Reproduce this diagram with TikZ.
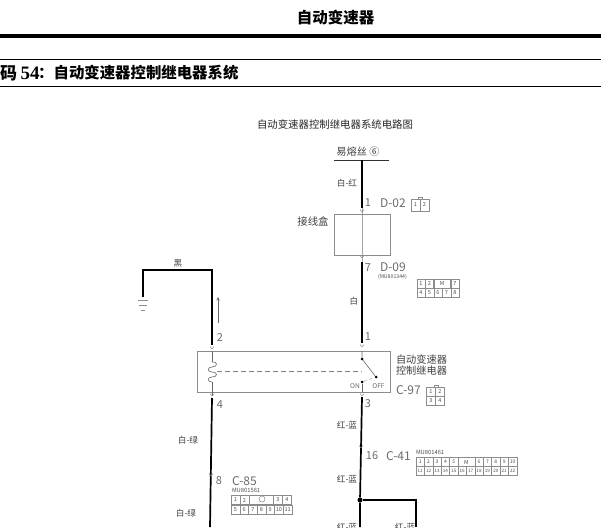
\documentclass[tikz,border=0pt]{standalone}
\usepackage{fontspec}
\setmainfont{Noto Sans CJK SC}
\newfontfamily\latinbold{Liberation Serif}
\definecolor{inkgray}{gray}{0.42}
\definecolor{linegray}{gray}{0.55}
\newcommand{\chev}[2]{\draw[linegray,line width=0.5pt] (#1-2,#2-2.5)--(#1,#2)--(#1+2,#2-2.5);}
\tikzset{
  wire/.style={line width=1.7pt,black},
  thinwire/.style={line width=0.6pt,linegray},
  txt/.style={inner sep=0pt,outer sep=0pt,font=\fontsize{8.6}{9}\selectfont,text=black!75},
  pin/.style={inner sep=0pt,outer sep=0pt,font=\fontsize{11}{11}\selectfont,text=inkgray},
  conn/.style={inner sep=0pt,outer sep=0pt,font=\fontsize{12}{12}\selectfont,text=inkgray},
  tiny/.style={inner sep=0pt,outer sep=0pt,font=\fontsize{5.8}{5.8}\selectfont,text=black!70},
  cell/.style={draw=linegray,line width=0.5pt,inner sep=0pt,outer sep=0pt,minimum height=9pt,font=\fontsize{5.5}{6}\selectfont,text=black!70},
  bump/.style={draw=linegray,line width=0.5pt,inner sep=0pt,outer sep=0pt,minimum width=4pt,minimum height=2pt},
  dot/.style={circle,fill=black,inner sep=0pt,minimum size=3pt}
}
\begin{document}
\begin{tikzpicture}[x=1pt,y=-1pt]
    \useasboundingbox (0,0) rectangle (601,527);
    % page head
    \node[inner sep=0pt,font=\fontsize{15.5}{16}\selectfont\bfseries] (head) at (335.5,18) {自动变速器};
    \coordinate (h1) at (0,36);
    \coordinate (h2) at (601,36);
    \draw[line width=4pt] (h1)--(h2);
    \coordinate (r1) at (0,59.5);
    \coordinate (r2) at (601,59.5);
    \coordinate (r3) at (0,86);
    \coordinate (r4) at (601,86);
    \draw[line width=0.8pt] (r1)--(r2);
    \draw[line width=0.8pt] (r3)--(r4);
    \node[inner sep=0pt,font=\fontsize{17}{17}\selectfont\bfseries] (sect1) at (8.5,73) {码};
    \node[inner sep=0pt,font=\fontsize{19}{19}\selectfont\bfseries\latinbold] (sect2) at (30,73) {54};
    \node[inner sep=0pt,anchor=west,font=\fontsize{15.4}{16}\selectfont\bfseries] (sect3) at (38,73) {：自动变速器控制继电器系统};
    \node[txt,font=\fontsize{10.4}{11}\selectfont,text=black!85] (title) at (335,125) {自动变速器控制继电器系统电路图};
    % fuse and junction box
    \node[txt,font=\fontsize{10.2}{11}\selectfont] (fuse) at (358,152) {易熔丝 ⑥};
    \coordinate (f1) at (334,160);
    \coordinate (f2) at (389,160);
    \coordinate (f3) at (362,160);
    \coordinate (d1) at (362,208);
    \coordinate (d2) at (362,262);
    \coordinate (d3) at (362,343);
    \draw[line width=1pt,black!80] (f1)--(f2);
    \draw[wire] (f3)--(d1);
    \draw[thinwire,black!35] (d1)--(d2);
    \draw[wire] (d2)--(d3);
    \node[draw=linegray,line width=0.7pt,minimum width=55.5pt,minimum height=41.5pt,inner sep=0pt] (jbox) at (362.2,234.7) {};
    \chev{362}{212}
    \chev{362}{258}
    \chev{362}{347}
    \node[txt,font=\fontsize{10.4}{11}\selectfont] (jtxt) at (313,222) {接线盒};
    \node[txt] (wr) at (347,183) {白-红};
    \node[pin] (p1) at (368,203) {1};
    \node[conn,anchor=west] (d02) at (380,203) {D-02};
    \node[bump] (d02k) at (420,198) {};
    \foreach \n/\x in {1/415.5,2/424.5}{
      \node[cell,minimum width=9pt,minimum height=12pt] (dt\n) at (\x,205) {\n};
    }
    \node[pin] (p7) at (368,268) {7};
    \node[conn,anchor=west] (d09) at (380,267) {D-09};
    \node[tiny,anchor=west,font=\fontsize{5.2}{5.2}\selectfont] (d09m) at (378,277) {(MU801344)};
    \foreach \n/\x in {1/421,2/429.5,3/455}{
      \node[cell,minimum width=8.5pt] (dda\n) at (\x,283.5) {\ifnum\n=3 7\else\n\fi};
    }
    \node[cell,minimum width=17pt] (ddm) at (442.2,283.5) {M};
    \foreach \n/\x in {4/421,5/429.5,6/438,7/446.5,8/455}{
      \node[cell,minimum width=8.5pt] (ddb\n) at (\x,292.5) {\n};
    }
    \node[txt] (wt) at (354,301) {白};
    % relay
    \node[draw=linegray,line width=0.7pt,minimum width=193pt,minimum height=41pt,inner sep=0pt] (relay) at (293.5,371.5) {};
    \node[pin] (p11) at (368,337) {1};
    \node[pin] (p3) at (368,404) {3};
    \node[pin] (p2) at (220,338) {2};
    \node[pin] (p4) at (220,405) {4};
    \node[txt,font=\fontsize{10.2}{11}\selectfont,align=left,anchor=west] (rtxt) at (396,365) {自动变速器\\控制继电器};
    \node[inner sep=0pt,font=\fontsize{6.6}{7}\selectfont,text=inkgray] (on) at (355,386) {ON};
    \node[inner sep=0pt,font=\fontsize{6.6}{7}\selectfont,text=inkgray] (off) at (378.5,386) {OFF};
    \node[conn,anchor=west] (c97) at (396,390) {C-97};
    \node[bump] (c97k) at (436,386) {};
    \foreach \n/\x/\y in {1/431/391.5,2/440/391.5,3/431/400.5,4/440/400.5}{
      \node[cell,minimum width=9pt] (cc\n) at (\x,\y) {\n};
    }
    % contact
    \node[dot] (s1) at (362,359) {};
    \node[dot] (s2) at (376,377) {};
    \node[dot] (s3) at (362,382) {};
    \coordinate (s4) at (362,351);
    \coordinate (s5) at (362,392);
    \draw[thinwire,black!60] (s4)--(s1)--(s2);
    \draw[thinwire,black!60] (s3)--(s5);
    \draw[line width=0.4pt,dashed,black!50] (s3)--(s2);
    % coil
    \coordinate (c0) at (212,351);
    \coordinate (c1) at (212,362);
    \coordinate (c2) at (212,382);
    \coordinate (c3) at (212,396);
    \coordinate (c4) at (217,371);
    \coordinate (c5) at (362,371);
    \draw[thinwire,black!60] (c0)--(c1);
    \draw[thinwire,black!60] (c2)--(c3);
    \draw[thinwire,black!60] (c1) .. controls (218,361) and (218,367) .. (212,367)
      .. controls (207,367) and (207,372) .. (212,372)
      .. controls (218,372) and (218,377) .. (212,377)
      .. controls (207,377) and (207,382) .. (212,382);
    \draw[line width=0.45pt,dash pattern=on 5pt off 3pt,black!50] (c4)--(c5);
    \chev{212}{349}
    \chev{212}{396}
    \chev{362}{396}
    % ground side
    \coordinate (g0) at (143,297);
    \coordinate (g1) at (143,270);
    \coordinate (g2) at (212,270);
    \coordinate (g3) at (212,345);
    \draw[wire,line width=1.4pt] (g0)--(g1)--(g2)--(g3);
    \node[txt] (blk) at (178,263) {黑};
    \coordinate (ga) at (218,323);
    \coordinate (gb) at (218,297);
    \draw[->,thinwire,black!60,>=stealth] (ga)--(gb);
    \coordinate (e1) at (138,300);
    \coordinate (e2) at (148,300);
    \coordinate (e3) at (139,305);
    \coordinate (e4) at (147,305);
    \coordinate (e5) at (141,310);
    \coordinate (e6) at (145,310);
    \draw[thinwire] (e1)--(e2);
    \draw[thinwire] (e3)--(e4);
    \draw[thinwire] (e5)--(e6);
    % lower left wire
    \coordinate (l1) at (212,398);
    \coordinate (l2) at (210,527);
    \draw[wire] (l1)--(l2);
    \chev{211}{476}
    \node[txt] (wg1) at (188,440) {白-绿};
    \node[txt] (wg2) at (186,513) {白-绿};
    \node[pin] (p8) at (219,481) {8};
    \node[conn,anchor=west] (c85) at (232,481) {C-85};
    \node[tiny,anchor=west] (c85m) at (232,490.5) {MU801561};
    \foreach \n/\x in {1/235.5,2/244.5,3/278,4/287}{
      \node[cell,minimum width=9pt] (ca\n) at (\x,500) {\n};
    }
    \node[cell,minimum width=24.5pt] (cakey) at (261.2,500) {};
    \node[draw=linegray,circle,line width=0.5pt,minimum size=6pt,inner sep=0pt] (caring) at (262,499) {};
    \foreach \n/\x in {5/235.4,6/244.1,7/252.8,8/261.5,9/270.2,10/278.9,11/287.6}{
      \node[cell,minimum width=8.7pt] (cb\n) at (\x,509.5) {\n};
    }
    % lower right wires
    \coordinate (m1) at (362,397);
    \node[dot,minimum size=5pt] (jn) at (360,500) {};
    \coordinate (m2) at (360,527);
    \coordinate (m3) at (416,500);
    \coordinate (m4) at (416,527);
    \draw[wire] (m1)--(jn)--(m2);
    \draw[wire,line width=1.2pt] (jn)--(m3)--(m4);
    \chev{361}{448}
    \node[txt] (rb1) at (347,425) {红-蓝};
    \node[txt] (rb2) at (347,479) {红-蓝};
    \node[txt] (rb3) at (347,527) {红-蓝};
    \node[txt] (rb4) at (405,527) {红-蓝};
    \node[pin] (p16) at (372,456) {16};
    \node[conn,anchor=west] (c41) at (386,456) {C-41};
    \node[tiny,anchor=west] (c41m) at (416,452.5) {MU801461};
    \foreach \n/\k in {1/0,2/1,3/2,4/3,5/4,6/7,7/8,8/9,9/10,10/11}{
      \node[cell,minimum width=8.4pt,font=\fontsize{5}{5}\selectfont] (ta\n) at ({420.2+\k*8.4},462) {\n};
    }
    \node[cell,minimum width=16.8pt] (takey) at (466.4,462) {M};
    \foreach \n/\k in {11/0,12/1,13/2,14/3,15/4,16/5,17/6,18/7,19/8,20/9,21/10,22/11}{
      \node[cell,minimum width=8.4pt,font=\fontsize{4.6}{5}\selectfont] (tb\n) at ({420.2+\k*8.4},471) {\n};
    }
\end{tikzpicture}
\end{document}
